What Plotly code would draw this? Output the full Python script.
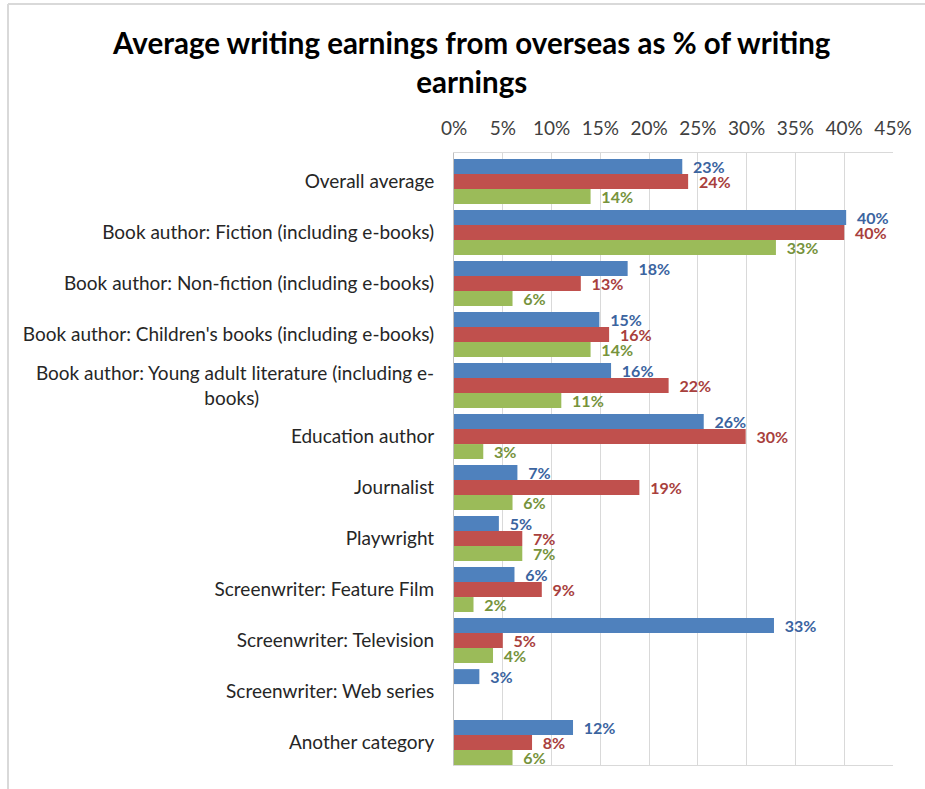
'''
    Grouped horizontal bar chart: average writing earnings from overseas
    as a share of writing earnings, per type of writer.
'''

import plotly.graph_objects as go

# Categories, top to bottom
categories = [
    'Overall average',
    'Book author: Fiction (including e-books)',
    'Book author: Non-fiction (including e-books)',
    "Book author: Children's books (including e-books)",
    'Book author: Young adult literature (including e-<br>books)' + '\u00a0' * 36,
    'Education author',
    'Journalist',
    'Playwright',
    'Screenwriter: Feature Film',
    'Screenwriter: Television',
    'Screenwriter: Web series',
    'Another category',
]

# Three series (values in %)
blue_values = [23.4, 40.2, 17.8, 14.9, 16.1, 25.6, 6.5, 4.6, 6.2, 32.8, 2.6, 12.2]
red_values = [24.0, 40.0, 13.0, 15.9, 22.0, 29.9, 19.0, 7.0, 9.0, 5.0, None, 8.0]
green_values = [14.0, 33.0, 6.0, 14.0, 11.0, 3.0, 6.0, 7.0, 2.0, 4.0, None, 6.0]

x_ticks = [0, 5, 10, 15, 20, 25, 30, 35, 40, 45]

series = [
    (blue_values, '#4F81BD', '#3B64A0'),
    (red_values, '#C0504D', '#A8403D'),
    (green_values, '#9BBB59', '#76933C'),
]


def init_figure():
    '''
        Builds the figure with the Excel-like layout.
    '''
    fig = go.Figure()
    fig.update_layout(
        width=925,
        height=789,
        paper_bgcolor='white',
        plot_bgcolor='white',
        showlegend=False,
        barmode='group',
        bargap=0.12,
        bargroupgap=0,
        margin=dict(l=454, r=32, t=153, b=24, autoexpand=False),
        font=dict(family='Lato, Open Sans, sans-serif', color='#262626'),
        title=dict(
            text='Average writing earnings from overseas as % of writing<br>earnings',
            x=0.51,
            xanchor='center',
            y=0.931,
            yanchor='top',
            font=dict(size=29.5, color='#000000', family='Lato, sans-serif', weight='bold'),
        ),
    )
    return fig


def draw(fig):
    '''
        Adds one trace per series, with bold data labels outside the bars.
    '''
    for values, color, text_color in series:
        fig.add_trace(go.Bar(
            y=categories,
            x=values,
            orientation='h',
            marker=dict(color=color, line=dict(width=0)),
            texttemplate='\u00a0\u00a0%{x:.0f}%',
            textposition='outside',
            constraintext='none',
            textfont=dict(size=16, color=text_color, family='Lato, sans-serif', weight='bold'),
            cliponaxis=False,
        ))

    fig.update_xaxes(
        side='top',
        range=[0, 45],
        tickvals=x_ticks,
        ticktext=[f'{t}%' for t in x_ticks],
        tickfont=dict(size=19, color='#404040'),
        ticks='',
        ticklabelstandoff=9,
        showgrid=True,
        gridcolor='#D9D9D9',
        gridwidth=1,
        showline=True,
        linecolor='#D9D9D9',
        mirror=True,
        zeroline=False,
        automargin=False,
        fixedrange=True,
    )
    # Groups sit a few pixels below the centre of their band, as in Excel
    fig.update_yaxes(
        range=[len(categories) - 0.56, -0.56],
        tickfont=dict(size=19, color='#262626'),
        ticks='',
        ticklabelstandoff=15,
        showline=True,
        linecolor='#BFBFBF',
        linewidth=1,
        automargin=False,
        fixedrange=True,
    )

    # Light frame of the chart area (top and left edges)
    fig.add_shape(type='line', xref='paper', yref='paper',
                  x0=(8 - 454) / 439, x1=(925 - 454) / 439,
                  y0=(765 - 4) / 612, y1=(765 - 4) / 612,
                  line=dict(color='#D9D9D9', width=2))
    fig.add_shape(type='line', xref='paper', yref='paper',
                  x0=(8 - 454) / 439, x1=(8 - 454) / 439,
                  y0=(765 - 789) / 612, y1=(765 - 4) / 612,
                  line=dict(color='#D9D9D9', width=2))
    return fig


fig = draw(init_figure())
# The page body has a default 8px margin; drop it so the figure sits at 0,0
fig.write_html('out.html', config={'displayModeBar': False},
               post_script="document.body.style.margin = '0';")
